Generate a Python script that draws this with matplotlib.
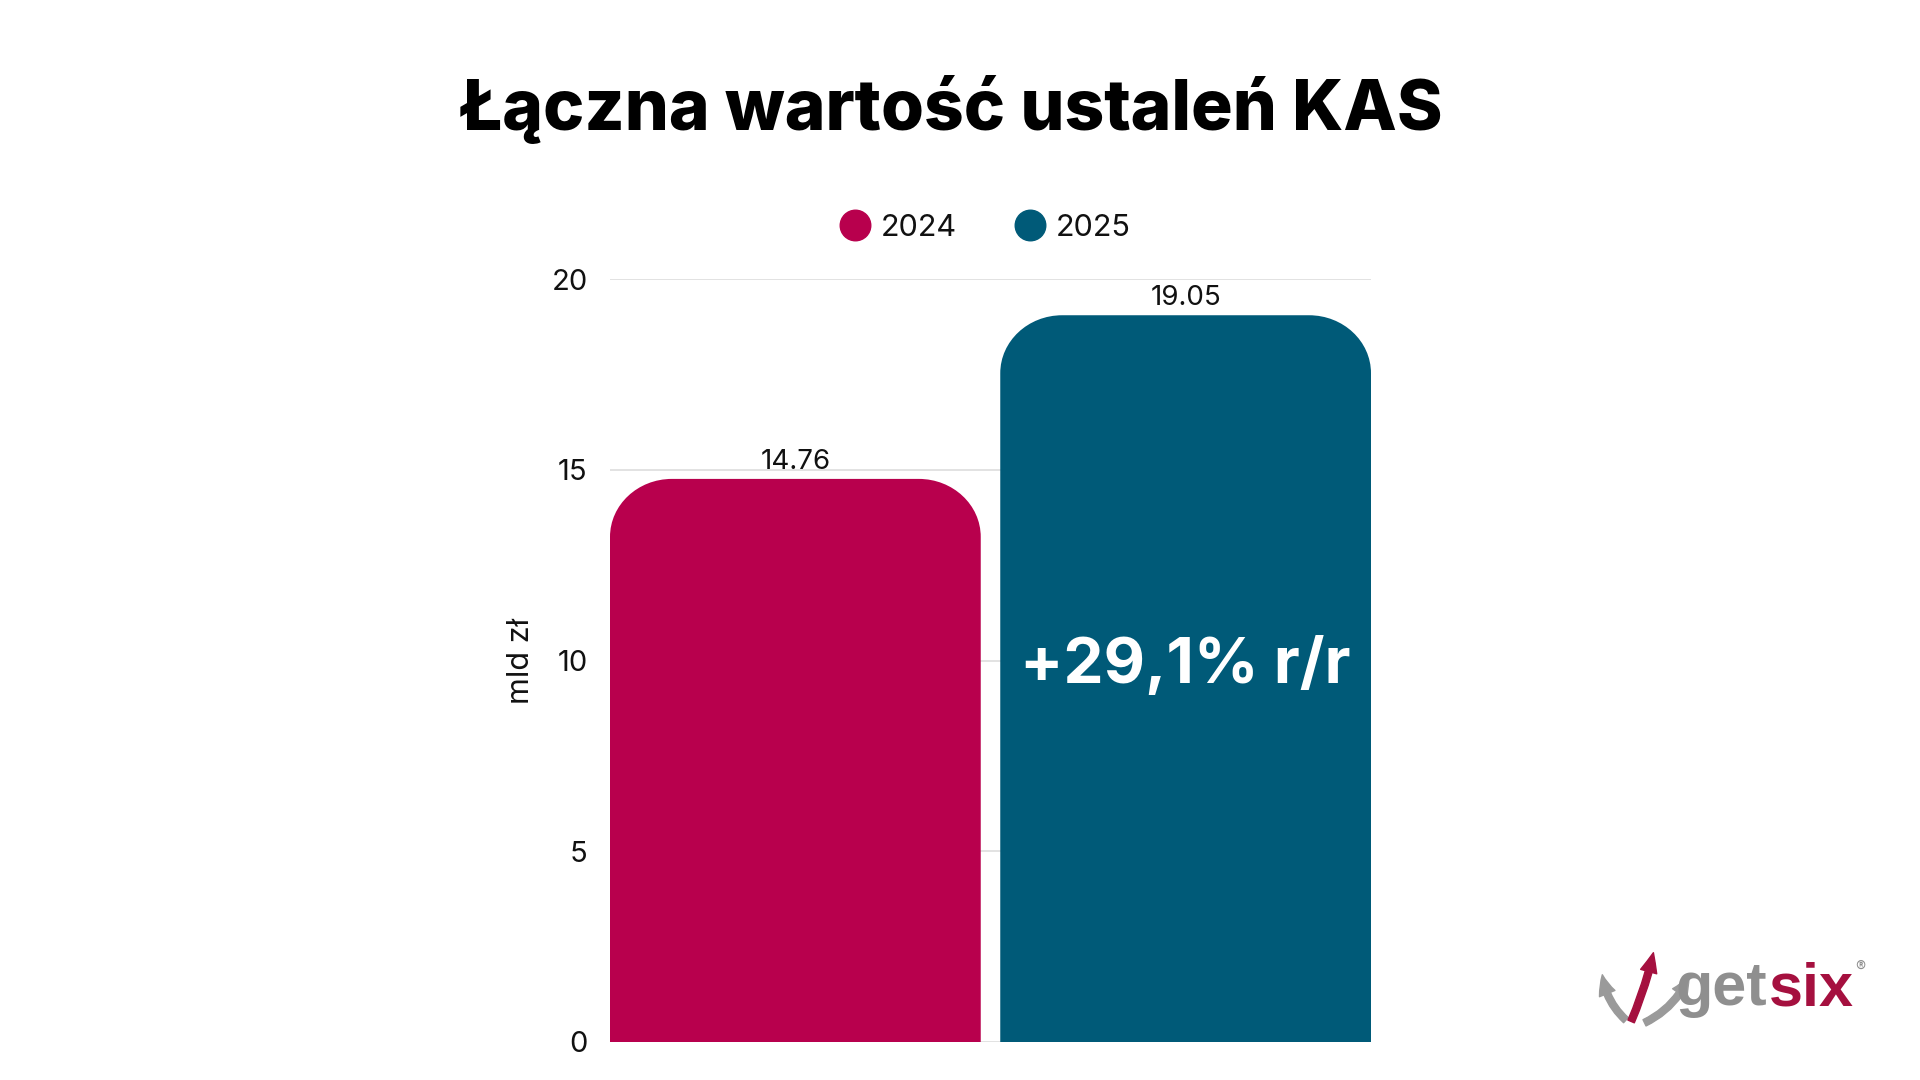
import matplotlib
matplotlib.use("Agg")
import matplotlib.pyplot as plt
from matplotlib.path import Path
from matplotlib.patches import PathPatch, FancyArrowPatch
from matplotlib.lines import Line2D

# ---- data ----
years = ["2024", "2025"]
values = [14.76, 19.05]
value_labels = ["14.76", "19.05"]
colors = ["#B8004D", "#005A78"]
yticks = [0, 5, 10, 15, 20]
title = "Łączna wartość ustaleń KAS"
ylabel = "mld zł"
change_label = "+29,1% r/r"

FONT = ["Inter", "DejaVu Sans"]
plt.rcParams["font.family"] = FONT

W, H = 1920, 1080
fig = plt.figure(figsize=(W / 100, H / 100), dpi=100)
fig.patch.set_facecolor("white")

ax_l, ax_r, ax_t, ax_b = 610, 1371, 279, 1042
ax = fig.add_axes([ax_l / W, 1 - ax_b / H, (ax_r - ax_l) / W, (ax_b - ax_t) / H])
ax.set_facecolor("none")

xpos = list(range(len(years)))
bw = 0.95
ax.set_xlim(-bw / 2, len(years) - 1 + bw / 2)
ax.set_ylim(0, 20)

bars = ax.bar(xpos, values, width=bw, color=colors, zorder=2)

# round the top corners of each bar
px_x = (ax.get_xlim()[1] - ax.get_xlim()[0]) / (ax_r - ax_l)
px_y = (ax.get_ylim()[1] - ax.get_ylim()[0]) / (ax_b - ax_t)
rx, ry = 62 * px_x, 58 * px_y
k = 0.5523
for b in bars:
    x0, y0 = b.get_x(), b.get_y()
    x1, y1 = x0 + b.get_width(), y0 + b.get_height()
    verts = [
        (x0, y0), (x0, y1 - ry),
        (x0, y1 - ry + k * ry), (x0 + rx - k * rx, y1), (x0 + rx, y1),
        (x1 - rx, y1),
        (x1 - rx + k * rx, y1), (x1, y1 - ry + k * ry), (x1, y1 - ry),
        (x1, y0), (x0, y0),
    ]
    codes = [Path.MOVETO, Path.LINETO,
             Path.CURVE4, Path.CURVE4, Path.CURVE4,
             Path.LINETO,
             Path.CURVE4, Path.CURVE4, Path.CURVE4,
             Path.LINETO, Path.CLOSEPOLY]
    patch = PathPatch(Path(verts, codes), facecolor=b.get_facecolor(),
                      edgecolor="none", zorder=2)
    b.set_visible(False)
    ax.add_patch(patch)

TXT = "#111111"
for x, v, lab in zip(xpos, values, value_labels):
    ax.annotate(lab, (x, v), xytext=(0, 3), textcoords="offset points",
                ha="center", va="bottom", fontsize=20, color=TXT)

ax.text(1, 9.85, change_label, ha="center", va="center", fontsize=46,
        fontweight="bold", color="white", zorder=3)

ax.set_yticks(yticks)
ax.set_xticks([])
ax.tick_params(axis="y", length=0, pad=16, labelsize=21, labelcolor=TXT)
ax.grid(axis="y", color="#dddddd", linewidth=1.2, zorder=0)
ax.set_axisbelow(True)
for s in ax.spines.values():
    s.set_visible(False)
ax.set_ylabel(ylabel, fontsize=22, color=TXT, labelpad=12)

# title
fig.text(951 / W, 1 - 110 / H, title, ha="center", va="center",
         fontsize=50, fontweight="heavy", color="black")

# legend
handles = [Line2D([], [], marker="o", linestyle="none", markersize=22,
                  markerfacecolor=c, markeredgecolor=c) for c in colors]
fig.legend(handles, years, loc="center", bbox_to_anchor=(985 / W, 1 - 228 / H),
           ncol=2, frameon=False, handletextpad=0.35,
           columnspacing=1.9, handlelength=1.0,
           prop={"size": 22}, labelcolor=TXT)

# logo
renderer = fig.canvas.get_renderer()
logo_font = ["Liberation Sans", "DejaVu Sans"]
t_get = fig.text(1676 / W, 1 - 1005 / H, "get", ha="left", va="baseline", fontsize=44,
                 fontweight="bold", color="#8f8f8f", family=logo_font)
bb = t_get.get_window_extent(renderer)
fig.text((bb.x1 + 1) / W, 1 - 1005 / H, "six", ha="left", va="baseline", fontsize=44,
         fontweight="bold", color="#A5103F", family=logo_font)
fig.text(1860 / W, 1 - 967 / H, "®", ha="center", va="center", fontsize=11,
         color="#8f8f8f")
for (xa, ya, xb, yb, c, rad) in [(1628, 1022, 1602, 972, "#9a9a9a", -0.2),
                                 (1630, 1024, 1654, 950, "#A5103F", 0.05),
                                 (1642, 1024, 1690, 974, "#9a9a9a", 0.2)]:
    fig.add_artist(FancyArrowPatch(
        (xa / W, 1 - ya / H), (xb / W, 1 - yb / H), transform=fig.transFigure,
        arrowstyle="simple,head_width=12,head_length=14,tail_width=5",
        connectionstyle=f"arc3,rad={rad}", color=c, mutation_scale=1))

fig.savefig("out.png", dpi=100, facecolor="white")
